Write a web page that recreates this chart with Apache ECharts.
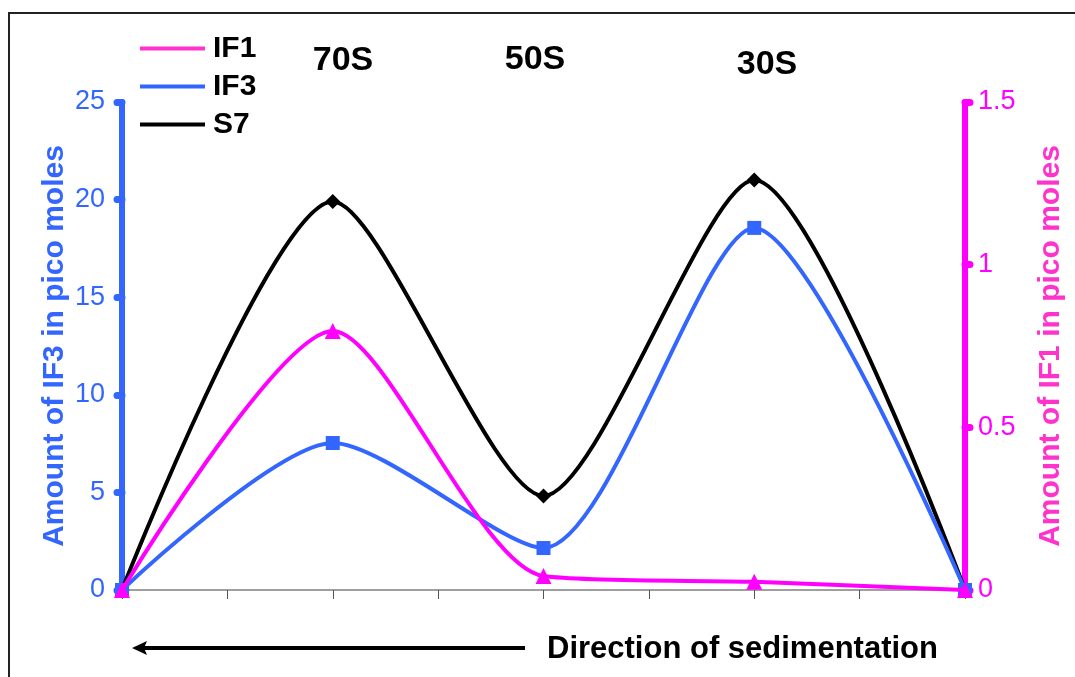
<!DOCTYPE html>
<html>
<head>
<meta charset="utf-8">
<script src="https://cdn.jsdelivr.net/npm/echarts@6/dist/echarts.min.js"></script>
<style>
  html, body { margin: 0; padding: 0; background: #fff; }
  #chart { width: 1075px; height: 677px; }
</style>
</head>
<body>
<div id="chart"></div>
<script>
// fraction positions along the gradient (x axis has 8 unlabeled steps)
const positions = [0, 2, 4, 6, 8]
const peakLabels = ["70S", "50S", "30S"]

// IF1 on the right axis, IF3 and S7 on the left
const if1 = [0, 0.796, 0.043, 0.025, 0]
const if3 = [0, 7.53, 2.15, 18.55, 0]
const s7 = [0, 19.9, 4.82, 21.0, 0]

const leftTicks = [0, 25, 5]
const rightTicks = [0, 1.5, 0.5]

const BLUE = "#3366FF"
const MAGENTA = "#FF00FF"
const FONT = "Liberation Sans, Arial, sans-serif"
const SMOOTH = 0.25

const pairs = arr => arr.map((v, i) => [positions[i], v])

const chart = echarts.init(document.getElementById("chart"))

chart.setOption({
  backgroundColor: "#fff",
  animation: false,
  grid: { left: 122, right: 110, top: 102, bottom: 87, outerBoundsMode: "none", containLabel: false },
  legend: {
    orient: "vertical",
    left: 135,
    top: 26,
    itemGap: 3,
    itemWidth: 65,
    itemHeight: 4,
    icon: "rect",
    textStyle: {
      fontFamily: FONT, fontWeight: "bold", fontSize: 30, lineHeight: 30,
      color: "#000", padding: [5, 0, 0, 3]
    },
    data: [
      { name: "IF1", itemStyle: { color: "#FF33CC" } },
      { name: "IF3", itemStyle: { color: BLUE } },
      { name: "S7", itemStyle: { color: "#000" } }
    ]
  },
  xAxis: {
    type: "value",
    min: 0,
    max: 8,
    interval: 1,
    axisLine: { onZero: false, lineStyle: { color: "#808080", width: 1.5 } },
    axisTick: { show: true, inside: false, length: 9, lineStyle: { color: "#555", width: 1 } },
    axisLabel: { show: false },
    splitLine: { show: false }
  },
  yAxis: [
    {
      type: "value",
      min: leftTicks[0],
      max: leftTicks[1],
      interval: leftTicks[2],
      name: "Amount of IF3 in pico moles",
      nameLocation: "middle",
      nameRotate: 90,
      nameGap: 52,
      nameMoveOverlap: false,
      nameTextStyle: { color: BLUE, fontFamily: FONT, fontWeight: "bold", fontSize: 30 },
      axisLine: { show: true, lineStyle: { color: BLUE, width: 6, cap: "round" } },
      axisTick: { show: true, length: 5, lineStyle: { color: BLUE, width: 7, cap: "round" } },
      axisLabel: { color: BLUE, fontFamily: FONT, fontSize: 27, margin: 17 },
      splitLine: { show: false }
    },
    {
      type: "value",
      position: "right",
      min: rightTicks[0],
      max: rightTicks[1],
      interval: rightTicks[2],
      name: "Amount of IF1 in pico moles",
      nameLocation: "middle",
      nameRotate: 90,
      nameGap: 71,
      nameMoveOverlap: false,
      nameTextStyle: { color: "#FF33CC", fontFamily: FONT, fontWeight: "bold", fontSize: 30 },
      axisLine: { show: true, lineStyle: { color: MAGENTA, width: 6, cap: "round" } },
      axisTick: { show: true, length: 5, lineStyle: { color: MAGENTA, width: 7, cap: "round" } },
      axisLabel: { color: MAGENTA, fontFamily: FONT, fontSize: 27, margin: 13 },
      splitLine: { show: false }
    }
  ],
  series: [
    {
      name: "S7",
      type: "line",
      yAxisIndex: 0,
      smooth: SMOOTH,
      data: pairs(s7),
      symbol: "diamond",
      symbolSize: 15,
      itemStyle: { color: "#000" },
      lineStyle: { color: "#000", width: 4 },
      z: 3
    },
    {
      name: "IF3",
      type: "line",
      yAxisIndex: 0,
      smooth: SMOOTH,
      data: pairs(if3),
      symbol: "rect",
      symbolSize: 14,
      itemStyle: { color: BLUE },
      lineStyle: { color: BLUE, width: 4 },
      z: 4
    },
    {
      name: "IF1",
      type: "line",
      yAxisIndex: 1,
      smooth: SMOOTH,
      data: pairs(if1),
      symbol: "triangle",
      symbolSize: 16,
      itemStyle: { color: MAGENTA },
      lineStyle: { color: MAGENTA, width: 4 },
      z: 5
    }
  ],
  graphic: [
    // outer frame
    { type: "polyline", shape: { points: [[9, 690], [9, 13], [1090, 13]] }, style: { stroke: "#222", lineWidth: 2, fill: null } },
    // peak labels
    { type: "text", x: 343, y: 61, style: { text: peakLabels[0], font: "bold 34px " + FONT, fill: "#000", align: "center", verticalAlign: "middle" } },
    { type: "text", x: 535, y: 60, style: { text: peakLabels[1], font: "bold 34px " + FONT, fill: "#000", align: "center", verticalAlign: "middle" } },
    { type: "text", x: 767, y: 65, style: { text: peakLabels[2], font: "bold 34px " + FONT, fill: "#000", align: "center", verticalAlign: "middle" } },
    // direction arrow
    { type: "line", shape: { x1: 525, y1: 648, x2: 142, y2: 648 }, style: { stroke: "#000", lineWidth: 4 } },
    { type: "polygon", shape: { points: [[132, 648], [147, 641], [144, 648], [147, 655]] }, style: { fill: "#000" } },
    { type: "text", x: 547, y: 649, style: { text: "Direction of sedimentation", font: "bold 31px " + FONT, fill: "#000", verticalAlign: "middle" } }
  ]
})

window.addEventListener("resize", () => {
  chart && chart.resize()
})
</script>
</body>
</html>
